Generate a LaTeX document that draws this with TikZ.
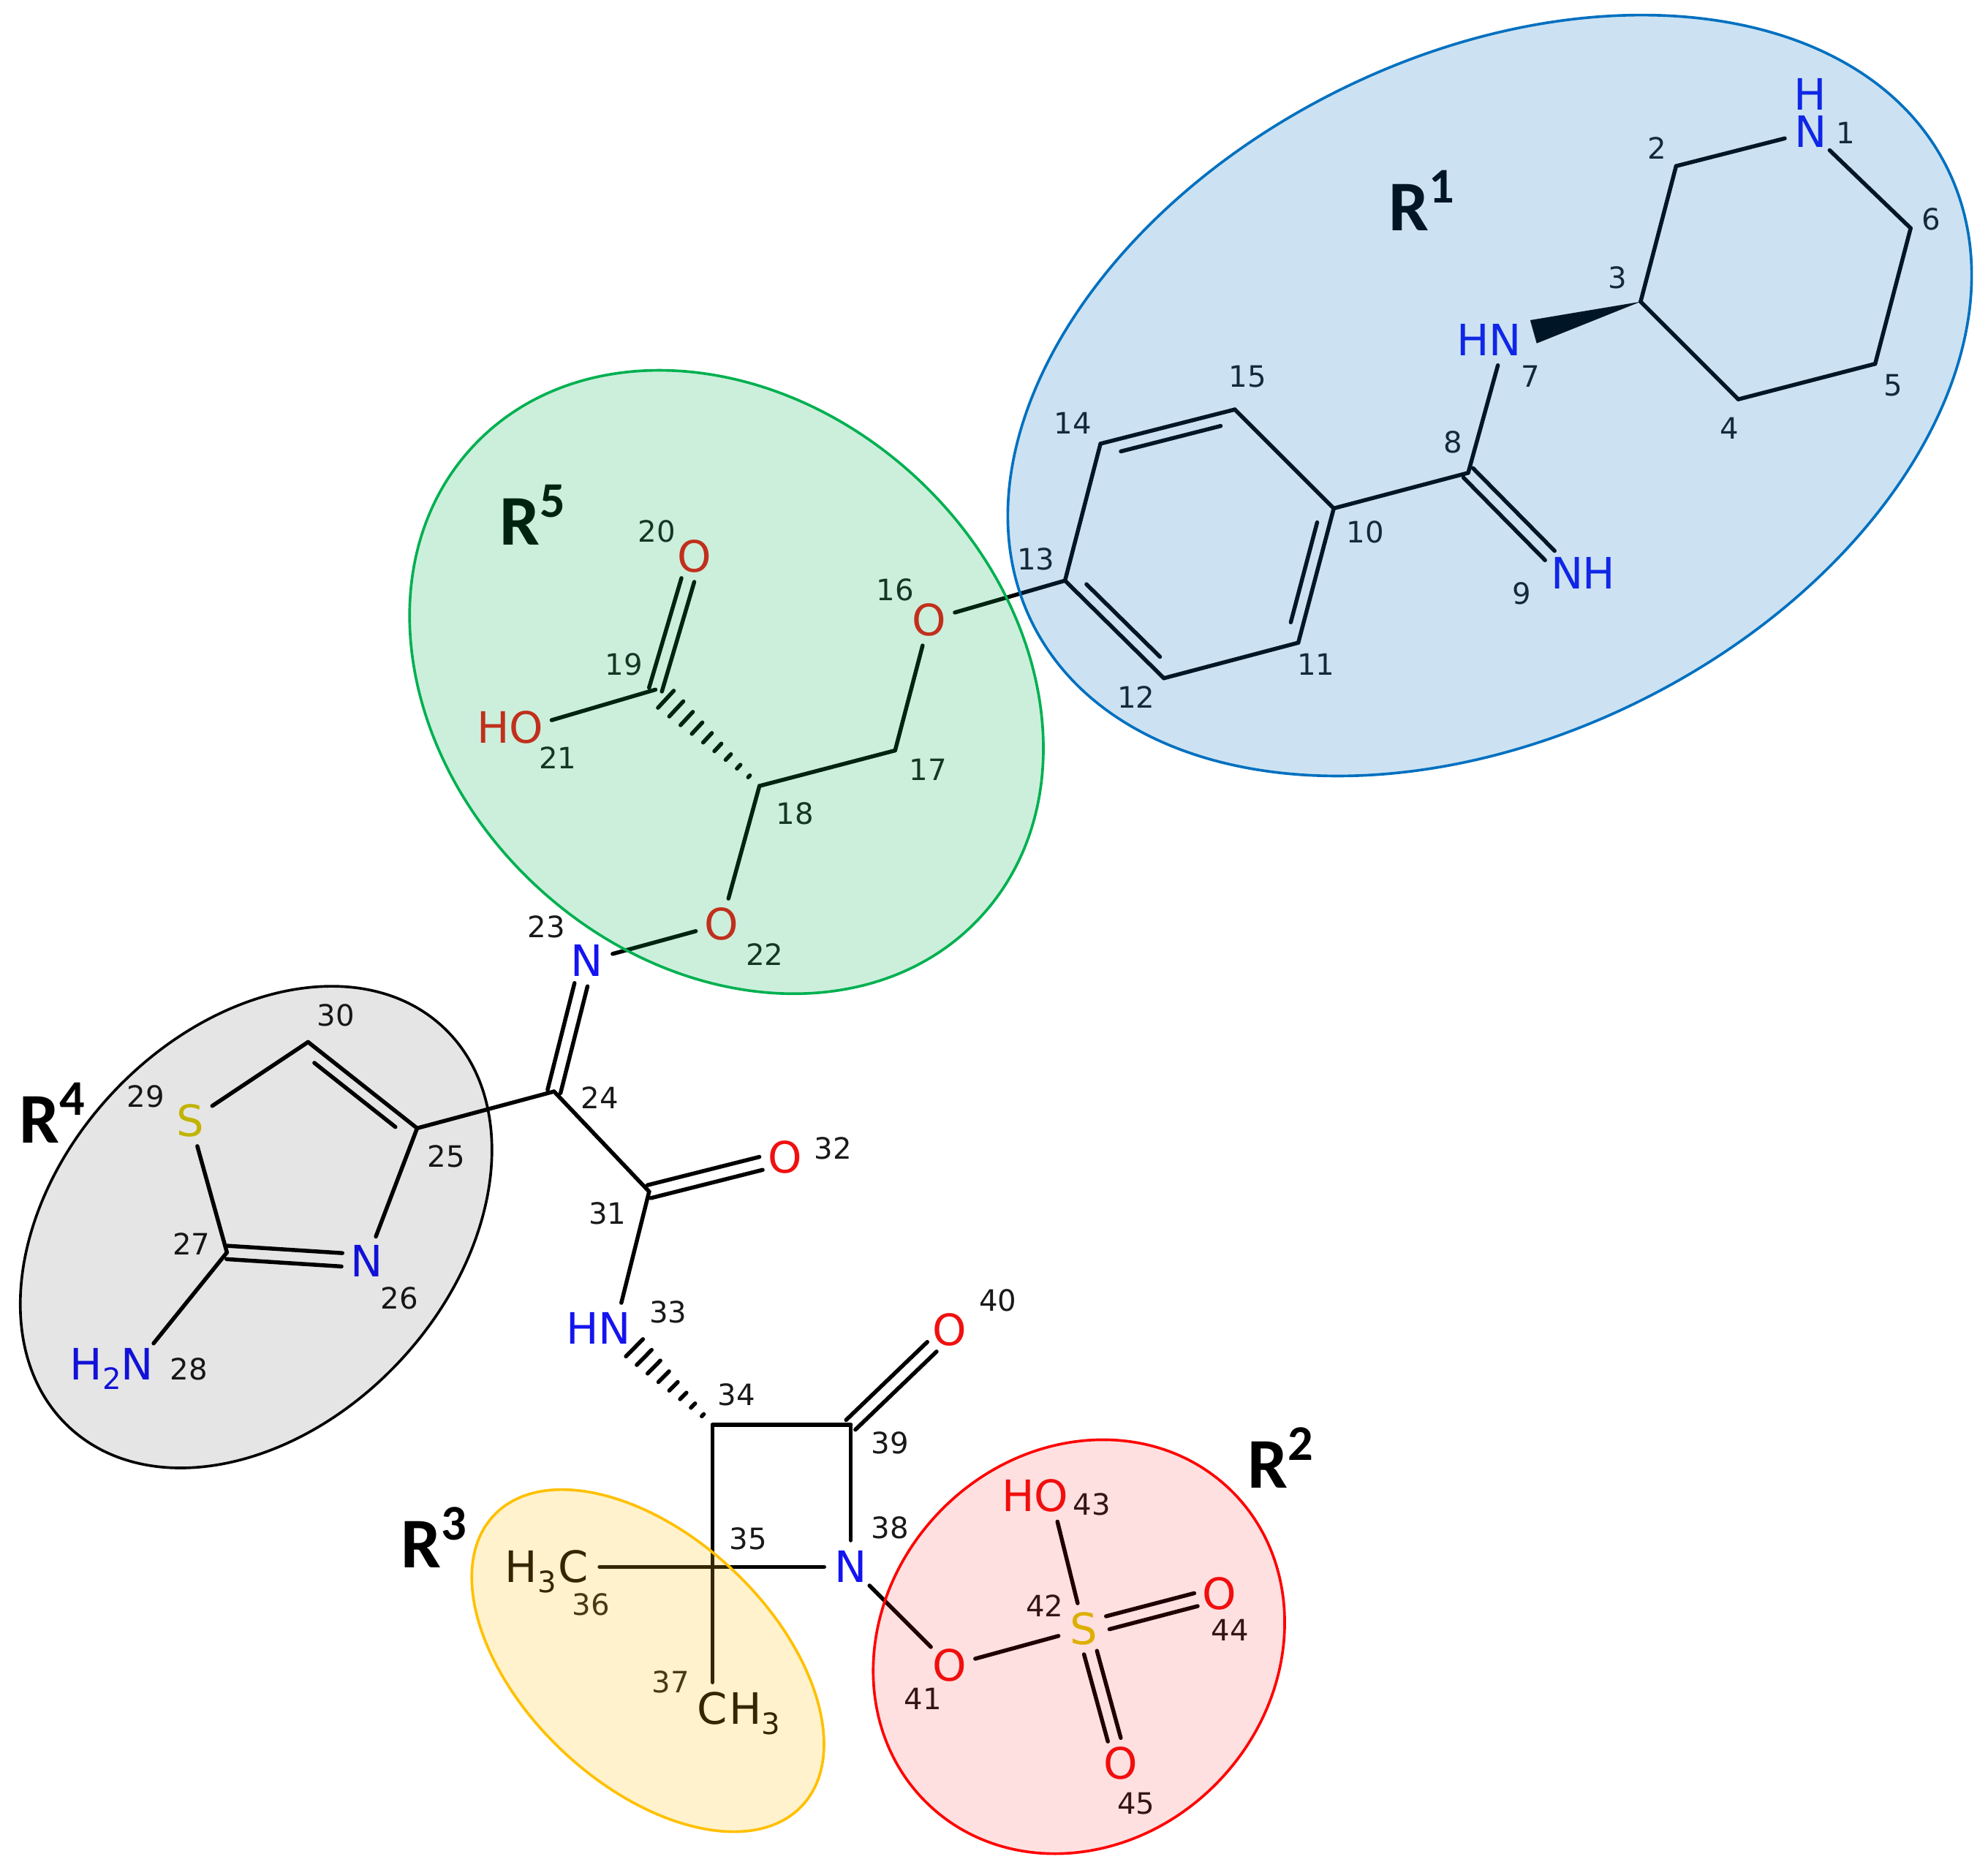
\documentclass[tikz,border=0pt]{standalone}
\usepackage{fontspec}
\setmainfont{DejaVu Sans}
\newfontfamily\rfont{Carlito}
\usetikzlibrary{calc,positioning}
\definecolor{nblue}{HTML}{1414F0}
\definecolor{ored}{HTML}{F01010}
\definecolor{syellow}{HTML}{D8C800}
\definecolor{regblue}{HTML}{0070C0}
\definecolor{reggreen}{HTML}{00B050}
\definecolor{regyellow}{HTML}{FFC000}
\definecolor{regred}{HTML}{FF0000}
\definecolor{reggrey}{HTML}{000000}
\newcommand{\sbn}[1]{\raisebox{-2.2pt}{\fontsize{6.6}{8}\selectfont #1}}
\tikzset{
  bond/.style={line width=0.9pt,line cap=round},
  atom/.style={circle,inner sep=0pt,minimum size=11.5pt,text height=7pt,text depth=0pt,font=\fontsize{9.7}{11}\selectfont},
  hpart/.style={inner sep=0pt,text height=7pt,text depth=0pt,font=\fontsize{9.7}{11}\selectfont},
  numlab/.style={inner sep=0pt,font=\fontsize{6.6}{8}\selectfont,text=black!90},
  rlab/.style={inner sep=0pt,font=\rfont\bfseries\fontsize{16}{18}\selectfont},
  region/.style={line width=0.6pt}
}
\begin{document}
\begin{tikzpicture}[x=0.01cm,y=-0.01cm]
  \useasboundingbox (0,0) rectangle (1568,1475);
  % Carbon positions
  \foreach \name/\x/\y in {c2/1322/131,c3/1294/238,c4/1371/315,c5/1479/287,c6/1507/180,c8/1158/373,
    c10/1052/401,c11/1024/507,c12/918/535,c13/840/458,c14/868/350,c15/974/323,
    c17/706/592,c18/599/620,c19/517/544,c24/437/861,c25/329/890,c27/179/988,c30/243/822,
    c31/512/940,c34/562/1124,c35/562/1236,c39/671/1124} {
    \coordinate (\name) at (\x,\y);
  };
  % Hetero atoms
  \foreach \name/\x/\y/\txt/\col in {n1/1428/104/N/nblue,n7/1187/268/N/nblue,n9/1236/452/N/nblue,
    o16/733/489/O/ored,o20/548/439/O/ored,o21/415/574/O/ored,o22/569/729/O/ored,n23/463/758/N/nblue,
    n26/289/995/N/nblue,n28/108/1076/N/nblue,s29/150/884/S/syellow,o32/619/913/O/ored,
    n33/485/1048/N/nblue,c36/452/1236/C/black,c37/562/1348/C/black,n38/671/1236/N/nblue,
    o40/749/1049/O/ored,o41/749/1314/O/ored,s42/855/1285/S/syellow,o43/829/1180/O/ored,
    o44/962/1257/O/ored,o45/884/1391/O/ored} {
    \node[atom,text=\col] (\name) at (\x,\y) {\txt};
  };
  % Hydrogens beside the atoms
  \node[atom,text=nblue,above=-3.5pt of n1] (h1) {H};
  \node[hpart,text=nblue,left=-2.6pt of n7] (h7) {H};
  \node[hpart,text=nblue,right=-2.6pt of n9] (h9) {H};
  \node[hpart,text=ored,left=-2.4pt of o21] (h21) {H};
  \node[hpart,text=nblue,left=-2.6pt of n28] (h28) {H\sbn{2}};
  \node[hpart,text=nblue,left=-2.6pt of n33] (h33) {H};
  \node[hpart,left=-2.4pt of c36] (h36) {H\sbn{3}};
  \node[hpart,right=-2.4pt of c37] (h37) {H\sbn{3}};
  \node[hpart,text=ored,left=-2.4pt of o43] (h43) {H};
  % Single bonds
  \foreach \a/\b in {n1/c2,c2/c3,c3/c4,c4/c5,c5/c6,c6/n1,n7/c8,c8/c10,c10/c11,c11/c12,c12/c13,
    c13/c14,c14/c15,c15/c10,c13/o16,o16/c17,c17/c18,c18/o22,o22/n23,c19/o21,c24/c25,c24/c31,
    c25/n26,c27/s29,s29/c30,c25/c30,c27/n28,c31/n33,c34/c35,c34/c39,c35/n38,n38/c39,c35/c36,
    c35/c37,n38/o41,o41/s42,s42/o43} {
    \draw[bond] (\a) -- (\b);
  };
  % Double bonds, both lines beside the axis
  \foreach \a/\b/\sa/\sb in {c8/n9/0pt/5.5pt,c19/o20/0pt/5.5pt,n23/c24/5.5pt/0pt,c27/n26/0pt/5.5pt,
    c31/o32/0pt/5.5pt,c39/o40/0pt/5.5pt,s42/o44/5.5pt/5.5pt,s42/o45/5.5pt/5.5pt} {
    \foreach \o in {1.5pt,-1.5pt} {
      \draw[bond,shorten <=\sa,shorten >=\sb] ($(\a.center)!\o!90:(\b.center)$) -- ($(\b.center)!\o!-90:(\a.center)$);
    };
  };
  % Double bonds, inner ring line
  \foreach \a/\b in {c10/c11,c12/c13,c14/c15,c30/c25} {
    \draw[bond,shorten <=4pt,shorten >=4pt] ($(\a)!-2.8pt!90:(\b)$) -- ($(\b)!-2.8pt!-90:(\a)$);
  };
  % Wedge and hashed bonds
  \fill (c3) -- ($(c3)!.79!(n7.center)!2.7pt!90:(n7.center)$) -- ($(c3)!.79!(n7.center)!-2.7pt!90:(n7.center)$) -- cycle;
  \foreach \t in {0.10,0.20,...,0.95} {
    \draw[bond] ($(c18)!\t!(c19)!{2.9pt*\t}!90:(c19)$) -- ($(c18)!\t!(c19)!{-2.9pt*\t}!90:(c19)$);
  };
  \foreach \t in {0.10,0.20,...,0.85} {
    \draw[bond] ($(c34)!\t!(n33.center)!{3.4pt*\t}!90:(n33.center)$) -- ($(c34)!\t!(n33.center)!{-3.4pt*\t}!90:(n33.center)$);
  };
  % Atom numbers
  \foreach \x/\y/\t in {1456/105/1,1307/117/2,1276/219/3,1364/338/4,1493/304/5,1523/173/6,1207/297/7,
    1146/349/8,1200/468/9,1077/420/10,1038/524/11,896/550/12,817/441/13,846/334/14,984/297/15,
    706/465/16,732/607/17,627/642/18,492/524/19,518/419/20,440/598/21,603/753/22,431/731/23,
    473/866/24,352/912/25,315/1024/26,151/981/27,149/1080/28,115/865/29,265/801/30,479/957/31,
    657/906/32,527/1035/33,581/1100/34,590/1214/35,466/1266/36,529/1327/37,702/1205/38,
    702/1138/39,787/1026/40,728/1340/41,824/1267/42,861/1187/43,970/1286/44,896/1423/45} {
    \node[numlab] (l\t) at (\x,\y) {\t};
  };
  % Group labels
  \node[rlab] (r1) at (1122,158) {R\textsuperscript{1}};
  \node[rlab] (r2) at (1011,1150) {R\textsuperscript{2}};
  \node[rlab] (r3) at (343,1213) {R\textsuperscript{3}};
  \node[rlab] (r4) at (42,878) {R\textsuperscript{4}};
  \node[rlab] (r5) at (421,406) {R\textsuperscript{5}};
  % Shaded groups, laid over the molecule
  \foreach \x/\y/\rx/\ry/\r/\col/\fcol/\op in {573/538/273/220/-42.8/reggreen/reggreen/0.2,
    1175/312/403/268.5/26.5/regblue/regblue/0.2,
    202/968/216/155/46.9/black/reggrey/0.1,
    511/1310/167/98/-43.3/regyellow/regyellow/0.2,
    851/1299/172/153/46.5/regred/regred/0.12} {
    \draw[region,draw=\col,fill=\fcol,fill opacity=\op,shift={(\x,\y)},rotate=\r] (0,0) ellipse [x radius=\rx,y radius=\ry];
  };
\end{tikzpicture}
\end{document}
